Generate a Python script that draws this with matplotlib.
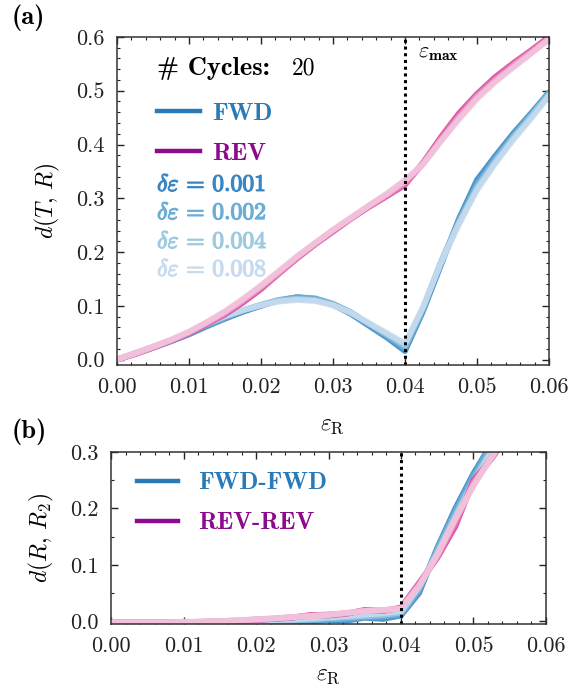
import numpy as np
import matplotlib
matplotlib.use("Agg")
import matplotlib.pyplot as plt
import matplotlib.patheffects as pe
from matplotlib.lines import Line2D
from matplotlib.ticker import MultipleLocator

plt.rcParams['font.family'] = ['cmr10', 'DejaVu Serif']
plt.rcParams['mathtext.fontset'] = 'cm'
plt.rcParams['axes.formatter.use_mathtext'] = True
plt.rcParams['axes.unicode_minus'] = False

# strain grid
eps_r = [0.0, 0.0025, 0.005, 0.0075, 0.01, 0.0125, 0.015, 0.0175, 0.02, 0.0225,
         0.025, 0.0275, 0.03, 0.0325, 0.035, 0.0375, 0.04, 0.0425, 0.045, 0.0475,
         0.05, 0.0525, 0.055, 0.0575, 0.06]
deltas = ['0.001', '0.002', '0.004', '0.008']

# panel (a): d(T, R)
fwd_a = [
    [0.000, 0.011, 0.022, 0.034, 0.047, 0.062, 0.076, 0.089, 0.100, 0.110, 0.116, 0.113, 0.102,
     0.085, 0.063, 0.041, 0.016, 0.090, 0.176, 0.262, 0.334, 0.378, 0.420, 0.458, 0.497],
    [0.000, 0.011, 0.023, 0.035, 0.049, 0.064, 0.078, 0.091, 0.102, 0.111, 0.116, 0.114, 0.104,
     0.088, 0.066, 0.044, 0.021, 0.094, 0.181, 0.258, 0.326, 0.373, 0.416, 0.456, 0.496],
    [0.000, 0.012, 0.024, 0.036, 0.050, 0.066, 0.080, 0.092, 0.102, 0.110, 0.113, 0.111, 0.102,
     0.087, 0.067, 0.047, 0.026, 0.096, 0.182, 0.255, 0.320, 0.368, 0.412, 0.452, 0.493],
    [0.000, 0.012, 0.024, 0.036, 0.050, 0.067, 0.081, 0.092, 0.101, 0.108, 0.111, 0.109, 0.101,
     0.087, 0.068, 0.049, 0.030, 0.098, 0.180, 0.252, 0.315, 0.364, 0.408, 0.448, 0.490],
]
rev_a = [
    [0.000, 0.010, 0.022, 0.035, 0.049, 0.066, 0.084, 0.106, 0.131, 0.160, 0.188, 0.214, 0.238,
     0.262, 0.284, 0.304, 0.325, 0.366, 0.414, 0.458, 0.494, 0.525, 0.551, 0.575, 0.600],
    [0.000, 0.011, 0.023, 0.036, 0.050, 0.067, 0.086, 0.109, 0.134, 0.161, 0.189, 0.215, 0.240,
     0.263, 0.285, 0.306, 0.328, 0.364, 0.411, 0.453, 0.491, 0.521, 0.548, 0.573, 0.598],
    [0.000, 0.011, 0.023, 0.036, 0.051, 0.069, 0.088, 0.111, 0.136, 0.163, 0.191, 0.216, 0.241,
     0.263, 0.286, 0.307, 0.331, 0.364, 0.408, 0.450, 0.488, 0.518, 0.545, 0.570, 0.596],
    [0.000, 0.012, 0.024, 0.037, 0.052, 0.070, 0.090, 0.113, 0.138, 0.165, 0.192, 0.217, 0.241,
     0.264, 0.287, 0.309, 0.334, 0.363, 0.406, 0.447, 0.485, 0.516, 0.543, 0.569, 0.596],
]

# panel (b): d(R, R2), up to 0.055 (beyond the top of the axes)
fwd_b = [
    [-0.003, -0.003, -0.003, -0.003, -0.003, -0.003, -0.003, -0.003, -0.003, -0.002, -0.002, -0.001,
     0.002, 0.001, 0.006, 0.004, 0.010, 0.050, 0.130, 0.200, 0.262, 0.315, 0.365],
    [-0.003, -0.003, -0.003, -0.003, -0.003, -0.003, -0.003, -0.002, -0.002, -0.001, 0.000, 0.001,
     0.003, 0.004, 0.007, 0.008, 0.012, 0.055, 0.128, 0.195, 0.258, 0.312, 0.362],
    [-0.002, -0.002, -0.002, -0.002, -0.002, -0.002, -0.002, -0.001, 0.000, 0.001, 0.002, 0.003,
     0.005, 0.007, 0.009, 0.011, 0.015, 0.060, 0.122, 0.188, 0.250, 0.305, 0.355],
    [-0.002, -0.002, -0.002, -0.002, -0.002, -0.002, -0.001, 0.000, 0.001, 0.002, 0.003, 0.005,
     0.007, 0.009, 0.012, 0.014, 0.018, 0.062, 0.118, 0.182, 0.245, 0.300, 0.350],
]
rev_b = [
    [-0.002, -0.002, -0.002, -0.002, -0.002, -0.002, -0.001, 0.000, 0.002, 0.004, 0.006, 0.011,
     0.010, 0.013, 0.020, 0.018, 0.024, 0.068, 0.112, 0.168, 0.250, 0.288, 0.335],
    [-0.002, -0.002, -0.002, -0.002, -0.002, -0.001, 0.000, 0.001, 0.003, 0.004, 0.007, 0.010,
     0.012, 0.014, 0.019, 0.019, 0.023, 0.066, 0.114, 0.175, 0.246, 0.290, 0.338],
    [-0.002, -0.002, -0.002, -0.002, -0.002, -0.001, 0.000, 0.001, 0.003, 0.005, 0.007, 0.009,
     0.011, 0.014, 0.018, 0.019, 0.022, 0.064, 0.116, 0.180, 0.242, 0.292, 0.340],
    [-0.002, -0.002, -0.002, -0.002, -0.001, -0.001, 0.000, 0.002, 0.003, 0.005, 0.007, 0.009,
     0.011, 0.015, 0.018, 0.020, 0.022, 0.062, 0.118, 0.182, 0.240, 0.290, 0.340],
]

blues = ['#3a86c2', '#6aaed6', '#9dcae1', '#c6dbef']
pinks = ['#d9469c', '#e57fb8', '#eda7cc', '#f2c4dd']
fwd_col = '#2a7ab8'
rev_col = '#8c0a8c'
eps_max = 0.04

fig = plt.figure(figsize=(5.74, 6.91), dpi=100)
ax1 = fig.add_axes([0.2038, 0.4718, 0.7526, 0.4747])
ax2 = fig.add_axes([0.1934, 0.0970, 0.7578, 0.2489])


def style(ax, ymaj, ymin):
    ax.xaxis.set_major_locator(MultipleLocator(0.01))
    ax.xaxis.set_minor_locator(MultipleLocator(0.002))
    ax.yaxis.set_major_locator(MultipleLocator(ymaj))
    ax.yaxis.set_minor_locator(MultipleLocator(ymin))
    ax.tick_params(which='both', direction='in', top=True, right=True,
                   labelsize=16, colors='#222222')
    ax.tick_params(axis='x', pad=9)
    ax.tick_params(axis='y', pad=9)
    ax.tick_params(which='major', length=5, width=1.0)
    ax.tick_params(which='minor', length=2.5, width=0.8)
    for s in ax.spines.values():
        s.set_color('#333333')
        s.set_linewidth(1.1)
    ax.xaxis.set_major_formatter(plt.FormatStrFormatter('%.2f'))
    ax.yaxis.set_major_formatter(plt.FormatStrFormatter('%.1f'))


# panel (a)
for i in range(4):
    ax1.plot(eps_r, fwd_a[i], color=blues[i], lw=4.2, alpha=0.9, solid_capstyle='round')
for i in range(4):
    ax1.plot(eps_r, rev_a[i], color=pinks[i], lw=4.2, alpha=0.9, solid_capstyle='round')
ax1.axvline(eps_max, color='black', ls=(0, (1, 1.2)), lw=2.2)
ax1.set_xlim(0, 0.06)
ax1.set_ylim(-0.01, 0.6)
style(ax1, 0.1, 0.02)
ax1.set_xlabel(r'$\varepsilon_{\mathrm{R}}$', fontsize=17, labelpad=12)
ax1.set_ylabel(r'$d(T,\,R)$', fontsize=17, labelpad=10)
ax1.text(0.0418, 0.562, r'$\varepsilon_{\mathbf{max}}$', fontsize=16)

ax1.text(0.093, 0.905, '# Cycles:', transform=ax1.transAxes, fontsize=19,
         family='cmb10', va='center', ha='left')
ax1.text(0.405, 0.905, '20', transform=ax1.transAxes, fontsize=17, va='center', ha='left')
h1 = [Line2D([], [], color=fwd_col, lw=3.2), Line2D([], [], color=rev_col, lw=3.2)]
ax1.legend(h1, ['FWD', 'REV'], loc='upper left', bbox_to_anchor=(0.093, 0.80),
           frameon=False, borderpad=0, borderaxespad=0, handlelength=1.7,
           handletextpad=0.5, labelspacing=0.7,
           prop={'family': 'cmb10', 'size': 18}, labelcolor='linecolor')
ys = [0.549, 0.463, 0.375, 0.29]
for i in range(4):
    ax1.text(0.093, ys[i], r'$\delta\varepsilon\, =\, ' + deltas[i] + '$', transform=ax1.transAxes,
             fontsize=17, color=blues[i], va='center', ha='left',
             path_effects=[pe.withStroke(linewidth=0.9, foreground=blues[i])])

# panel (b)
for i in range(4):
    ax2.plot(eps_r[:len(fwd_b[i])], fwd_b[i], color=blues[i], lw=4.2, alpha=0.9,
             solid_capstyle='round')
for i in range(4):
    ax2.plot(eps_r[:len(rev_b[i])], rev_b[i], color=pinks[i], lw=4.2, alpha=0.9,
             solid_capstyle='round')
ax2.axvline(eps_max, color='black', ls=(0, (1, 1.2)), lw=2.2)
ax2.set_xlim(0, 0.06)
ax2.set_ylim(-0.005, 0.3)
style(ax2, 0.1, 0.05)
ax2.set_xlabel(r'$\varepsilon_{\mathrm{R}}$', fontsize=17, labelpad=6)
ax2.set_ylabel(r'$d(R,\,R_2)$', fontsize=17, labelpad=10)
h2 = [Line2D([], [], color=fwd_col, lw=3.2), Line2D([], [], color=rev_col, lw=3.2)]
ax2.legend(h2, ['FWD-FWD', 'REV-REV'], loc='upper left', bbox_to_anchor=(0.06, 0.885),
           frameon=False, borderpad=0, borderaxespad=0, handlelength=1.65,
           handletextpad=0.8, labelspacing=0.7,
           prop={'family': 'cmb10', 'size': 18}, labelcolor='linecolor')

fig.text(12 / 574, 1 - 18 / 691, '(a)', family='cmb10', fontsize=19, va='center', ha='left')
fig.text(12 / 574, 1 - 432 / 691, '(b)', family='cmb10', fontsize=19, va='center', ha='left')

fig.savefig('out.png', dpi=100)
